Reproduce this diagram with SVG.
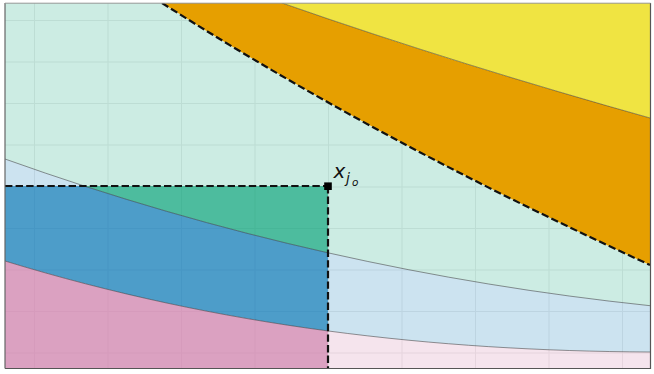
<svg xmlns="http://www.w3.org/2000/svg" width="654" height="374" viewBox="0 0 654 374">
  <style>
    .grid { stroke: #ededed; stroke-width: 1; fill: none; }
    .edge { fill: none; stroke: #3a3a3a; stroke-opacity: 0.6; stroke-width: 0.9; }
    .dash { fill: none; stroke: #111; stroke-width: 2.2; stroke-dasharray: 7.4 3.2; }
    .lt-green { fill: #009E73; fill-opacity: 0.2; }
    .lt-blue { fill: #0072B2; fill-opacity: 0.2; }
    .lt-pink { fill: #CC79A7; fill-opacity: 0.2; }
    .dk-green { fill: #009E73; fill-opacity: 0.625; }
    .dk-blue { fill: #0072B2; fill-opacity: 0.625; }
    .dk-pink { fill: #CC79A7; fill-opacity: 0.625; }
    .lbl { font-family: "DejaVu Sans", sans-serif; font-style: italic; fill: #111; }
  </style>
  <defs>
    <clipPath id="rectClip"><rect x="5" y="186" width="323" height="182"/></clipPath>
    <clipPath id="plotClip"><rect x="5" y="3" width="645.5" height="365"/></clipPath>
  </defs>
  <rect x="0" y="0" width="654" height="374" fill="#ffffff"/>
  <g id="grid" class="grid">
    <path d="M34.5,3V368M108,3V368M181.5,3V368M255,3V368M328.5,3V368M402,3V368M475.5,3V368M549,3V368M622.5,3V368"/>
    <path d="M5,20.5H650M5,62H650M5,103.5H650M5,145H650M5,187H650M5,228.5H650M5,270H650M5,311.5H650M5,353H650"/>
  </g>
  <g id="regions" clip-path="url(#plotClip)">
    <path id="region-teal" class="lt-green" d="M5,3 L162,3 C325,107 487.3,190.2 650,265 L650,305.7 C435,283 220,236 5,159 Z"/>
    <path id="region-blue" class="lt-blue" d="M5,159 C220,236 435,283 650,305.7 L650,352 C435,351 220,327 5,261 Z"/>
    <path id="region-pink" class="lt-pink" d="M5,261 C220,327 435,351 650,352 L650,368 L5,368 Z"/>
    <path id="region-orange" fill="#E69F00" d="M162,3 C325,107 487.3,190.2 650,265 L650,118 C527.3,83.6 404.7,45.9 282,3 Z"/>
    <path id="region-yellow" fill="#F0E442" d="M282,3 C404.7,45.9 527.3,83.6 650,118 L650,3 Z"/>
    <g id="dark-regions" clip-path="url(#rectClip)">
      <path class="dk-green" d="M5,3 L162,3 C325,107 487.3,190.2 650,265 L650,305.7 C435,283 220,236 5,159 Z"/>
      <path class="dk-blue" d="M5,159 C220,236 435,283 650,305.7 L650,352 C435,351 220,327 5,261 Z"/>
      <path class="dk-pink" d="M5,261 C220,327 435,351 650,352 L650,368 L5,368 Z"/>
    </g>
  </g>
  <g id="connectors" clip-path="url(#plotClip)">
    <path class="edge" d="M282,3 C404.7,45.9 527.3,83.6 650,118"/>
    <path class="edge" d="M5,159 C220,236 435,283 650,305.7"/>
    <path class="edge" d="M5,261 C220,327 435,351 650,352"/>
    <path class="dash" d="M162,3 C325,107 487.3,190.2 650,265"/>
    <path class="dash" d="M5,186 H328"/>
    <path class="dash" d="M328,186 V368"/>
  </g>
  <g id="frame">
    <path d="M5,368.5 H650.5 V3" fill="none" stroke="#555" stroke-width="1.2"/>
    <path d="M5,3 V368.5" fill="none" stroke="#666" stroke-width="1.2"/>
    <path d="M5,3.2 H650.5" fill="none" stroke="#999" stroke-width="1"/>
  </g>
  <g id="point-xjo">
    <rect x="324.2" y="182.4" width="7.6" height="7.6" fill="#000"/>
    <text class="lbl" x="333.5" y="177.5" font-size="20">x<tspan x="346" y="182.5" font-size="14">j</tspan><tspan x="352" y="185.5" font-size="10.5">o</tspan></text>
  </g>
</svg>
